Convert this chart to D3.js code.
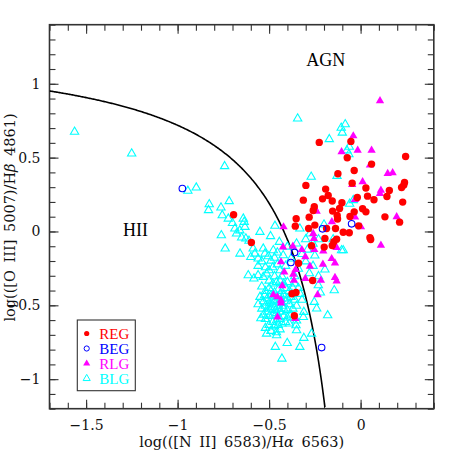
<!DOCTYPE html>
<html><head><meta charset="utf-8">
<script src="https://cdn.jsdelivr.net/npm/d3@7/dist/d3.min.js"></script>
<style>body{margin:0;background:#fff}</style>
</head><body>
<svg id="c" width="458" height="458"></svg>
<script>
// ---- data: [log([NII]/Ha), log([OIII]/Hb)] ----
const REG = [[-0.226,0.603],[-0.053,0.610],[-0.073,0.499],[0.246,0.508],[0.060,0.456],[-0.035,0.413],[-0.124,0.391],[0.240,0.332],[0.236,0.314],[0.224,0.298],[-0.299,0.312],[-0.046,0.327],[0.029,0.294],[-0.191,0.287],[0.157,0.278],[-0.018,0.230],[0.038,0.239],[0.144,0.237],[0.073,0.215],[-0.313,0.212],[-0.208,0.221],[-0.177,0.244],[-0.155,0.206],[-0.102,0.194],[0.230,0.199],[-0.253,0.167],[-0.259,0.142],[0.011,0.154],[0.029,0.133],[-0.035,0.133],[-0.153,0.138],[-0.115,0.156],[-0.128,0.108],[0.133,0.099],[-0.058,0.102],[-0.281,0.097],[-0.352,0.086],[0.213,0.063],[-0.250,0.043],[-0.186,0.020],[-0.137,0.020],[-0.284,0.020],[-0.357,0.036],[-0.095,-0.005],[-0.062,-0.009],[-0.011,0.038],[0.051,-0.043],[0.055,-0.054],[-0.694,0.113],[-0.597,-0.075],[-0.195,-0.047],[-0.146,-0.070],[-0.131,-0.052],[-0.268,-0.097],[-0.199,-0.106],[-0.155,-0.095],[-0.339,-0.215],[-0.262,-0.332],[-0.353,-0.413],[-0.375,-0.422],[-0.362,-0.571],[-0.126,0.084]];
const BEG = [[-0.974,0.291],[-0.361,-0.142],[-0.381,-0.210],[-0.208,0.018],[-0.049,0.052],[-0.213,-0.786]];
const RLG = [[0.106,0.888],[-0.040,0.650],[-0.104,0.542],[-0.016,0.553],[0.060,0.553],[0.051,0.452],[0.148,0.395],[0.175,0.400],[-0.046,0.321],[0.011,0.339],[0.111,0.282],[0.106,0.260],[-0.031,0.219],[-0.250,0.156],[0.197,0.102],[0.002,0.034],[-0.157,0.068],[-0.421,0.034],[0.111,-0.090],[-0.259,-0.011],[-0.255,-0.045],[-0.424,-0.102],[-0.370,-0.097],[-0.321,-0.120],[-0.253,-0.120],[-0.204,-0.129],[-0.131,-0.106],[-0.302,-0.169],[-0.158,-0.181],[-0.140,-0.210],[-0.435,-0.203],[-0.277,-0.233],[-0.206,-0.219],[-0.417,-0.271],[-0.368,-0.287],[-0.355,-0.255],[-0.302,-0.316],[-0.364,-0.327],[-0.217,-0.327],[-0.140,-0.309],[-0.131,-0.332],[-0.428,-0.364],[-0.235,-0.425],[-0.477,-0.425],[-0.435,-0.463],[-0.455,-0.440],[-0.435,-0.481],[-0.454,-0.576],[-0.357,-0.587],[-0.240,0.140],[-0.030,0.100]];
const BLG = [[-1.563,0.678],[-1.251,0.531],[-0.743,0.445],[-0.344,0.768],[-0.084,0.729],[-0.106,0.705],[-0.100,0.672],[-0.171,0.628],[-0.062,0.576],[-0.075,0.552],[-0.064,0.526],[-0.270,0.373],[-0.129,0.379],[-0.944,0.278],[-0.898,0.300],
[-0.827,0.187],[-0.831,0.147],[-0.718,0.208],[-0.763,0.165],[-0.756,0.113],[-0.723,0.090],[-0.700,0.060],[-0.687,0.023],[-0.641,0.090],[-0.636,0.068],[-0.632,0.034],[-0.761,-0.023],[-0.678,-0.011],[-0.660,0.010],[-0.650,-0.038],[-0.740,-0.113],[-0.659,-0.147],[-0.627,-0.045],[-0.610,-0.060],
[-0.550,0.000],[-0.468,0.041],[-0.492,-0.029],[-0.444,-0.068],[-0.587,-0.113],[-0.578,-0.147],[-0.532,-0.113],[-0.523,-0.147],[-0.477,-0.124],[-0.423,-0.158],[-0.600,-0.170],[-0.560,-0.180],[-0.540,-0.200],[-0.505,-0.165],[-0.490,-0.195],[-0.470,-0.175],[-0.455,-0.140],[-0.560,-0.230],[-0.520,-0.240],[-0.500,-0.260],[-0.614,-0.294],[-0.583,-0.316],[-0.560,-0.293],[-0.532,-0.305],[-0.514,-0.282],[-0.480,-0.240],[-0.455,-0.220],[-0.440,-0.260],[-0.470,-0.300],[-0.430,-0.300],[-0.500,-0.330],
[-0.540,-0.370],[-0.520,-0.400],[-0.500,-0.380],[-0.480,-0.350],[-0.460,-0.340],[-0.440,-0.330],[-0.420,-0.350],[-0.400,-0.340],[-0.410,-0.380],[-0.390,-0.400],[-0.370,-0.380],[-0.450,-0.390],[-0.470,-0.410],[-0.490,-0.430],[-0.510,-0.450],[-0.530,-0.470],[-0.550,-0.440],[-0.560,-0.490],[-0.540,-0.520],[-0.520,-0.500],[-0.500,-0.480],[-0.480,-0.460],[-0.460,-0.440],[-0.440,-0.420],[-0.420,-0.430],[-0.400,-0.450],[-0.380,-0.440],[-0.360,-0.460],[-0.350,-0.500],[-0.370,-0.520],[-0.390,-0.490],[-0.410,-0.470],[-0.430,-0.480],[-0.450,-0.500],[-0.470,-0.510],[-0.490,-0.520],[-0.510,-0.540],[-0.530,-0.560],[-0.545,-0.585],[-0.520,-0.590],[-0.500,-0.570],[-0.480,-0.560],[-0.460,-0.550],[-0.440,-0.540],[-0.420,-0.520],[-0.400,-0.530],[-0.380,-0.560],[-0.400,-0.580],[-0.420,-0.570],[-0.440,-0.590],[-0.460,-0.600],[-0.480,-0.610],[-0.500,-0.630],[-0.520,-0.650],[-0.470,-0.640],[-0.450,-0.630],[-0.430,-0.620],[-0.410,-0.610],[-0.390,-0.620],[-0.440,-0.660],[-0.460,-0.680],[-0.490,-0.670],[-0.514,-0.689],[-0.459,-0.700],[-0.350,-0.600],[-0.353,-0.632],[-0.350,-0.666],[-0.470,-0.470],[-0.455,-0.460],[-0.435,-0.455],[-0.425,-0.500],[-0.445,-0.520],[-0.465,-0.530],[-0.485,-0.490],[-0.505,-0.510],[-0.525,-0.430],[-0.490,-0.400],[-0.430,-0.400],[-0.375,-0.420],[-0.360,-0.350],[-0.340,-0.380],[-0.330,-0.420],[-0.320,-0.460],
[-0.466,-0.779],[-0.401,-0.752],[-0.430,-0.858],[-0.332,-0.779],[-0.310,-0.718],[-0.268,-0.689],[-0.180,-0.565],[-0.240,-0.519],[-0.253,-0.474],[-0.310,-0.542],[-0.313,-0.576],[-0.144,-0.395],[-0.231,-0.361],[-0.220,-0.410],[-0.195,-0.255],[-0.095,-0.124],
[-0.332,0.023],[-0.277,-0.011],[-0.104,-0.124],[-0.350,-0.079],[-0.300,-0.050],[-0.260,-0.080],[-0.290,-0.120],[-0.320,-0.150],[-0.250,-0.160],[-0.300,-0.200],[-0.340,-0.250],[-0.260,-0.230],[-0.280,-0.280],[-0.230,-0.300],[-0.400,-0.100],[-0.380,-0.180],[-0.410,-0.230],[-0.360,-0.300],[-0.040,0.215],[-0.060,0.190],[-0.200,0.050],[-0.150,-0.050],[-0.230,-0.050]];
const xTicks = [-1.5,-1,-0.5,0];
const yTicks = [-1,-0.5,0,0.5,1];
const legendNames = ["REG","BEG","RLG","BLG"];
const colors = {REG:"#ff0000",BEG:"#0000ff",RLG:"#ff00ff",BLG:"#00ffff"};

const svg = d3.select("#c");
const L=49.5,R=433.8,T=24.7,B=408.7;
const x = d3.scaleLinear().domain([-1.7,0.4]).range([L,R]);
const y = d3.scaleLinear().domain([-1.2,1.4]).range([B,T]);
const minorX = d3.range(-17,5).map(v=>v/10);
const minorY = d3.range(-12,15).map(v=>v/10);
const fmt = d=> d3.format("")(d).replace("-","\u2212");
const tickFont = "DejaVu Serif";

svg.append("defs").append("clipPath").attr("id","clip").append("rect").attr("x",L).attr("y",T).attr("width",R-L).attr("height",B-T);

// axes
function ax(gen, tr, ticks, size, labels){
  const g = svg.append("g").attr("transform",tr).call(gen.tickValues(ticks).tickSize(size).tickSizeOuter(0).tickPadding(6).tickFormat(labels?fmt:""));
  g.select(".domain").remove();
  g.selectAll("line").attr("stroke","#333").attr("stroke-width",1.1);
  g.selectAll("text").attr("font-family",tickFont).attr("font-size",14).attr("fill","#111");
  return g;
}
ax(d3.axisBottom(x),`translate(0,${B})`,minorX,-6,false);
ax(d3.axisBottom(x),`translate(0,${B})`,xTicks,-9,true).selectAll("text").attr("dy","1.1em");
ax(d3.axisTop(x),`translate(0,${T})`,minorX,-6,false);
ax(d3.axisTop(x),`translate(0,${T})`,xTicks,-9,false);
ax(d3.axisLeft(y),`translate(${L},0)`,minorY,-6,false);
ax(d3.axisLeft(y),`translate(${L},0)`,yTicks,-9,true).selectAll("text").attr("x",-9);
ax(d3.axisRight(y),`translate(${R},0)`,minorY,-6,false);
ax(d3.axisRight(y),`translate(${R},0)`,yTicks,-9,false);

svg.append("rect").attr("x",L).attr("y",T).attr("width",R-L).attr("height",B-T).attr("fill","none").attr("stroke","#333").attr("stroke-width",1.6);

// Kauffmann demarcation curve
const kx = d3.range(-1.70,-0.190,0.005);
svg.append("path").datum(kx.map(v=>[v,0.61/(v-0.05)+1.3]))
  .attr("clip-path","url(#clip)")
  .attr("d",d3.line().x(d=>x(d[0])).y(d=>y(d[1])))
  .attr("fill","none").attr("stroke","#000").attr("stroke-width",1.6);

const tri = d3.symbol().type(d3.symbolTriangle);
const pts = svg.append("g").attr("clip-path","url(#clip)");
pts.selectAll(".blg").data(BLG).join("path").attr("d",tri.size(30)())
  .attr("transform",d=>`translate(${x(d[0])},${y(d[1])+0.5})`).attr("fill","none").attr("stroke",colors.BLG).attr("stroke-width",1.1);
pts.selectAll(".rlg").data(RLG).join("path").attr("d",tri.size(30)())
  .attr("transform",d=>`translate(${x(d[0])},${y(d[1])+0.5})`).attr("fill",colors.RLG);
pts.selectAll(".reg").data(REG).join("circle").attr("cx",d=>x(d[0])).attr("cy",d=>y(d[1])).attr("r",3.7).attr("fill",colors.REG);
pts.selectAll(".beg").data(BEG).join("circle").attr("cx",d=>x(d[0])).attr("cy",d=>y(d[1])).attr("r",3.3).attr("fill","none").attr("stroke",colors.BEG).attr("stroke-width",1.1);

// region labels
svg.append("text").attr("x",x(-0.19)).attr("y",y(1.12)).attr("text-anchor","middle").attr("font-family","Liberation Serif").attr("font-size",18).text("AGN");
svg.append("text").attr("x",x(-1.23)).attr("y",y(-0.03)).attr("text-anchor","middle").attr("font-family","Liberation Serif").attr("font-size",18).text("HII");

// legend
const lg = svg.append("g");
lg.append("rect").attr("x",77.3).attr("y",320).attr("width",58).attr("height",70.7).attr("fill","#fff").attr("stroke","#333").attr("stroke-width",1.1);
legendNames.forEach((n,i)=>{
  const cy = 333.5 + i*15;
  if(n==="REG") lg.append("circle").attr("cx",86.7).attr("cy",cy).attr("r",2.6).attr("fill",colors.REG);
  if(n==="BEG") lg.append("circle").attr("cx",86.7).attr("cy",cy).attr("r",2.6).attr("fill","none").attr("stroke",colors.BEG).attr("stroke-width",1);
  if(n==="RLG") lg.append("path").attr("d",tri.size(22)()).attr("transform",`translate(86.7,${cy})`).attr("fill",colors.RLG);
  if(n==="BLG") lg.append("path").attr("d",tri.size(22)()).attr("transform",`translate(86.7,${cy})`).attr("fill","none").attr("stroke",colors.BLG).attr("stroke-width",1);
  lg.append("text").attr("x",99.3).attr("y",cy+5).attr("font-family","Liberation Serif").attr("font-size",15).attr("fill",colors[n]).text(n);
});

// axis titles
const xt = svg.append("text").attr("x",241.7).attr("y",446.5).attr("text-anchor","middle").attr("font-family",tickFont).attr("font-size",14.5).attr("word-spacing",3).attr("fill","#111");
xt.append("tspan").text("log(([N II] 6583)/H");
xt.append("tspan").attr("font-style","italic").text("\u03b1");
xt.append("tspan").text(" 6563)");
const yt = svg.append("text").attr("transform","translate(15,217.5) rotate(-90)").attr("text-anchor","middle").attr("font-family",tickFont).attr("font-size",14.5).attr("word-spacing",3).attr("fill","#111");
yt.append("tspan").text("log(([O III] 5007)/H");
yt.append("tspan").attr("font-style","italic").text("\u03b2");
yt.append("tspan").text(" 4861)");
</script>
</body></html>
